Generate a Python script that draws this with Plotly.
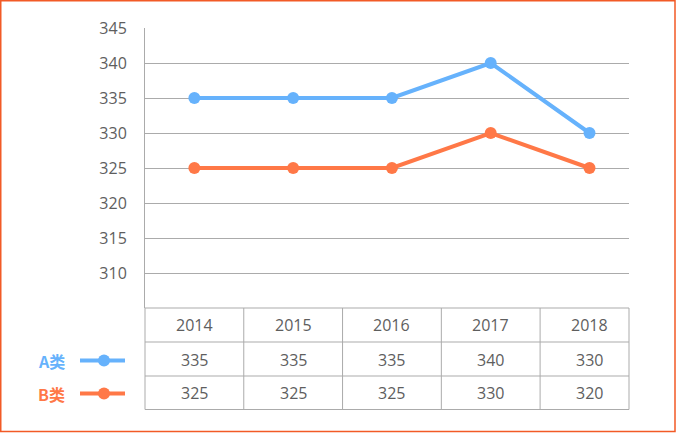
import plotly.graph_objects as go

# ---- data ----
years = ["2014", "2015", "2016", "2017", "2018"]
series_a = [335, 335, 335, 340, 330]
series_b = [325, 325, 325, 330, 325]
table_a = ["335", "335", "335", "340", "330"]
table_b = ["325", "325", "325", "330", "320"]
y_ticks = [310, 315, 320, 325, 330, 335, 340, 345]
names = ["A类", "B类"]

BLUE = "#66B2FC"
ORANGE = "#FF7847"
GRID = "#ABABAB"
TXT = "#5E5E5E"
BORDER = "#F25A26"
FONT = "Open Sans, Noto Sans, sans-serif"
CJK = "Noto Sans CJK SC"

W, H = 676, 433
L, R, T, B = 145, 47, 28, 125
PW, PH = W - L - R, H - T - B


def px(x):
    return (x - L) / PW


def py(y):
    return (H - B - y) / PH


fig = go.Figure()
for name, vals, col in [(names[0], series_a, BLUE), (names[1], series_b, ORANGE)]:
    fig.add_trace(go.Scatter(
        x=years, y=vals, mode="lines+markers", name=name,
        line=dict(color=col, width=4), marker=dict(color=col, size=12),
        showlegend=False, cliponaxis=False, hoverinfo="skip"))

shapes = []
# table horizontal lines
for yy in [342, 376, 409.5]:
    shapes.append(dict(type="line", xref="paper", yref="paper", x0=0, x1=1,
                       y0=py(yy), y1=py(yy), line=dict(color=GRID, width=1)))
shapes.append(dict(type="line", xref="paper", yref="paper", x0=0, x1=1,
                   y0=0, y1=0, line=dict(color=GRID, width=1)))
# table vertical lines
for i in range(len(years) - 1):
    shapes.append(dict(type="line", xref="x", yref="paper", x0=i + 0.5, x1=i + 0.5,
                       y0=0, y1=py(409.5), line=dict(color=GRID, width=1)))
for xx in [0, 1]:
    shapes.append(dict(type="line", xref="paper", yref="paper", x0=xx, x1=xx,
                       y0=0, y1=py(409.5), line=dict(color=GRID, width=1)))
# legend keys
for yy, col in [(360.5, BLUE), (393.5, ORANGE)]:
    shapes.append(dict(type="line", xref="paper", yref="paper", x0=px(80), x1=px(125),
                       y0=py(yy), y1=py(yy), line=dict(color=col, width=4)))
    shapes.append(dict(type="circle", xref="paper", yref="paper",
                       x0=px(98), x1=px(110), y0=py(yy + 6), y1=py(yy - 6),
                       fillcolor=col, line=dict(color=col, width=0)))
# outer border
shapes.append(dict(type="rect", xref="paper", yref="paper", x0=px(0.75), x1=px(675),
                   y0=py(431.5), y1=py(0.75), line=dict(color=BORDER, width=1.5)))

annotations = []
for i, yr in enumerate(years):
    for yy, txt in [(325, yr), (359.5, table_a[i]), (393, table_b[i])]:
        annotations.append(dict(x=i, y=py(yy), xref="x", yref="paper", text=txt,
                                showarrow=False, font=dict(family=FONT, size=16, color=TXT),
                                xanchor="center", yanchor="middle"))
for yy, name, col in [(360.5, names[0], BLUE), (393.5, names[1], ORANGE)]:
    annotations.append(dict(x=px(51), y=py(yy), xref="paper", yref="paper",
                            text="<b>%s</b>" % name, showarrow=False,
                            font=dict(family=CJK, size=16, color=col),
                            xanchor="center", yanchor="middle"))

fig.update_layout(
    width=W, height=H,
    margin=dict(l=L, r=R, t=T, b=B),
    paper_bgcolor="white", plot_bgcolor="white",
    shapes=shapes, annotations=annotations,
    hovermode=False,
    xaxis=dict(type="category", range=[-0.5, 4.4], showticklabels=False,
               showgrid=False, zeroline=False, showline=False, ticks=""),
    yaxis=dict(range=[305, 345], tickvals=y_ticks, showgrid=True, gridcolor=GRID,
               gridwidth=1, zeroline=False, showline=True, linecolor=GRID, linewidth=1,
               ticks="", ticklabelstandoff=14,
               tickfont=dict(family=FONT, size=16, color=TXT)),
)

fig.write_html("out.html", config={"displayModeBar": False},
               post_script="document.body.style.margin='0';")
